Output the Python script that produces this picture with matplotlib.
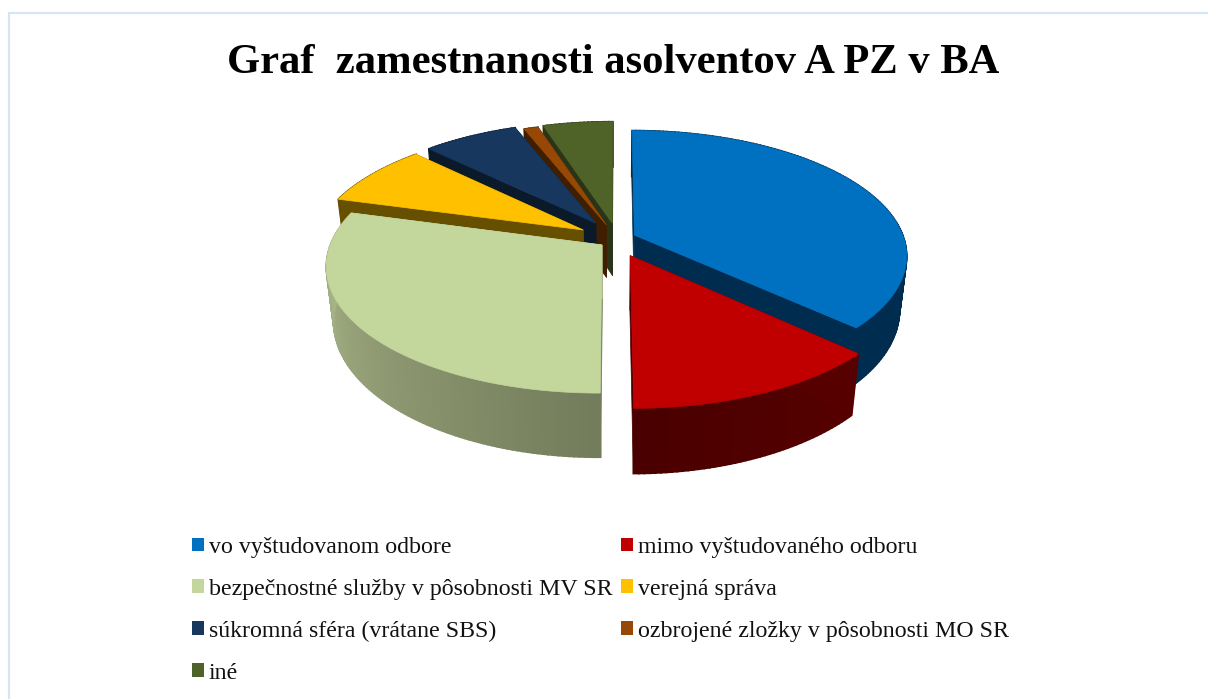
import numpy as np
import matplotlib
matplotlib.use("Agg")
import matplotlib.pyplot as plt
from matplotlib.patches import Patch
from matplotlib.colors import to_rgb

title = "Graf  zamestnanosti asolventov A PZ v BA"
categories = ["vo vyštudovanom odbore", "mimo vyštudovaného odboru",
              "bezpečnostné služby v pôsobnosti MV SR", "verejná správa",
              "súkromná sféra (vrátane SBS)", "ozbrojené zložky v pôsobnosti MO SR", "iné"]
values = [37.0, 13.0, 29.4, 8.1, 6.7, 1.0, 4.9]
colors = ["#0070C0", "#C00000", "#C3D69B", "#FFC000", "#17375E", "#974806", "#4F6228"]
rim_start = ["#002D4F", "#560000", "#737C5B", "#665000", "#0A1A2B", "#3F1F00", "#2A3518"]
rim_end = ["#002D4F", "#4A0000", "#B2BF90", "#665000", "#0A1A2B", "#3F1F00", "#2A3518"]
explode_x = [0.065, 0.048, -0.055, -0.127, -0.080, -0.040, -0.018]
explode_y = [0.040, -0.125, -0.040, 0.083, 0.140, 0.125, 0.140]
draw_order = [6, 5, 4, 3, 0, 2, 1]

W, H = 1208, 699
CX, CY, RX, BY, DEPTH, PERSP, PERSP_Z = 617, 240, 270, 122.7, 53.5, 0.16, 0.025

fig = plt.figure(figsize=(W / 100, H / 100), dpi=100)
ax = fig.add_axes([0, 0, 1, 1])
ax.set_xlim(0, W)
ax.set_ylim(H, 0)
ax.axis("off")
plt.rcParams["font.family"] = ["Liberation Serif", "DejaVu Serif"]


def proj(x, y, z=0.0):
    w = 1 + PERSP * y
    return CX + RX * x / (w + PERSP_Z * z), CY + (-BY * y + DEPTH * z) / w


def mix(a, b, t):
    a, b = np.array(to_rgb(a)), np.array(to_rgb(b))
    return tuple(a + (b - a) * t)


edges = np.concatenate([[0], np.cumsum(values)]) / np.sum(values) * 2 * np.pi
for i in draw_order:
    a0, a1 = edges[i], edges[i + 1]
    ex, ey = explode_x[i], explode_y[i]
    t = np.linspace(a0, a1, max(int((a1 - a0) * 60), 4))
    rx, ry = ex + np.sin(t), ey + np.cos(t)
    # outer rim, shaded piece by piece
    for k in range(len(t) - 1):
        x0, y0 = proj(rx[k], ry[k])
        x1, y1 = proj(rx[k + 1], ry[k + 1])
        x2, y2 = proj(rx[k + 1], ry[k + 1], 1)
        x3, y3 = proj(rx[k], ry[k], 1)
        c = mix(rim_start[i], rim_end[i], k / max(len(t) - 2, 1))
        ax.fill([x0, x1, x2, x3], [y0, y1, y2, y3], color=c, lw=1.2, zorder=1)
    # radial walls
    for j, col in ((0, rim_start[i]), (-1, rim_end[i])):
        px = [proj(ex, ey)[0], proj(rx[j], ry[j])[0], proj(rx[j], ry[j], 1)[0], proj(ex, ey, 1)[0]]
        py = [proj(ex, ey)[1], proj(rx[j], ry[j])[1], proj(rx[j], ry[j], 1)[1], proj(ex, ey, 1)[1]]
        ax.fill(px, py, color=col, lw=0.5, zorder=1)
    # top face
    sx, sy = proj(np.r_[ex, rx], np.r_[ey, ry])
    ax.fill(sx, sy, color=colors[i], lw=0.5, zorder=1)

ax.plot([8.5, 8.5, W], [H, 12.5, 12.5], color="#D6E4F5", lw=1.6, zorder=0, solid_joinstyle="miter")

ax.text(613, 63, title, fontsize=30.7, fontweight="bold", ha="center", va="center",
        family=["Liberation Serif"], color="black")

order = [0, 2, 4, 6, 1, 3, 5]
handles = [Patch(facecolor=colors[i], edgecolor="none") for i in order]
labels = [categories[i] for i in order]
ax.legend(handles, labels, ncol=2, loc="upper left", bbox_to_anchor=(192 / W, 1 - 537 / H),
          frameon=False, prop={"family": "Liberation Serif", "size": 17.2},
          handlelength=0.5, handleheight=0.5, handletextpad=0.21, labelspacing=0.87,
          columnspacing=0.37, borderpad=0, borderaxespad=0, labelcolor="#111111")

fig.savefig("out.png", dpi=100, facecolor="white")
